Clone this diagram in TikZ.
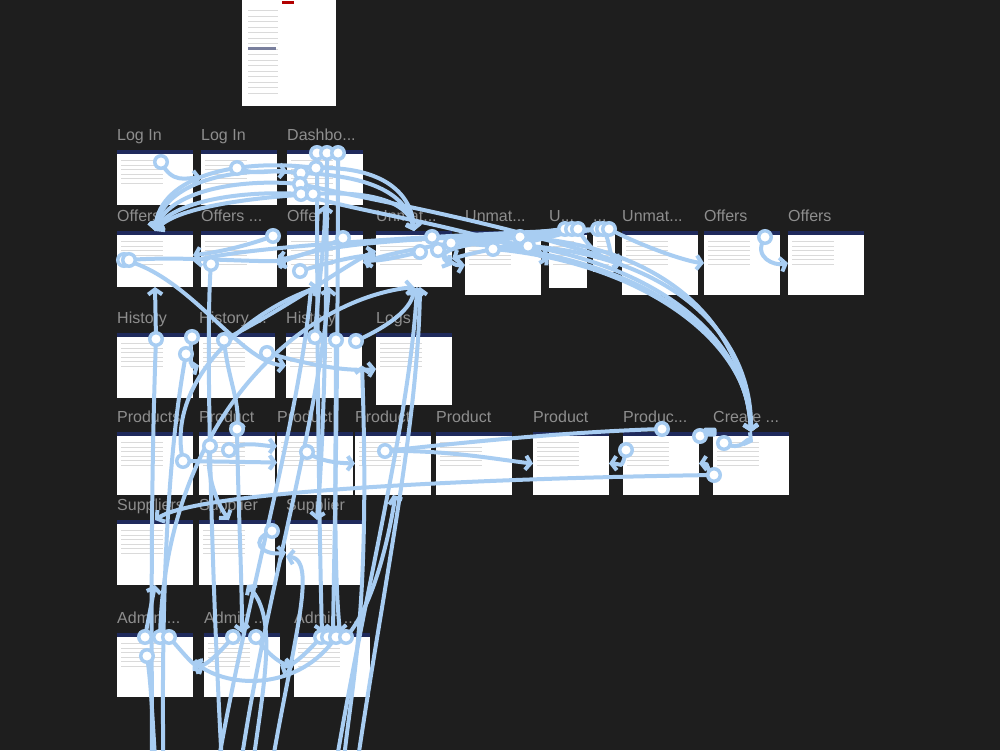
\documentclass[tikz,border=0pt]{standalone}
\usepackage{fontspec}
\setmainfont{Liberation Sans}
\usetikzlibrary{arrows.meta,calc}
\definecolor{bg}{HTML}{1E1E1E}
\definecolor{lnk}{HTML}{A8CDF2}
\definecolor{navy}{HTML}{1F2A5C}
\definecolor{lblc}{HTML}{8E8E8E}
\definecolor{mock}{HTML}{DADADA}
\tikzset{
 frmbox/.style={fill=white, draw=none, inner sep=0pt, outer sep=0pt, anchor=north west},
 lab/.style={text=lblc, font=\fontsize{16}{18}\selectfont, anchor=base west, inner sep=0pt},
 conn/.style={draw=lnk, line width=4pt, line cap=round, -{Straight Barb[length=5pt,width=14pt]}},
 link/.style={draw=lnk, line width=4pt, line cap=round},
 hot/.style={circle, draw=lnk, fill=white, line width=3.5pt, minimum size=12.5pt, inner sep=0pt},
 mockline/.style={draw=mock, line width=0.6pt},
}
\newcommand\mkframe[6]{%
 \node[frmbox, minimum width=#4pt, minimum height=#5pt] (#1) at (#2,#3) {};
 \fill[navy] (#1.north west) rectangle ([yshift=-3.5pt]#1.north east);
 \foreach \k in {1,...,6} \draw[mockline] ([xshift=4pt,yshift={-6pt-\k*4.5pt}]#1.north west) -- ++({0.55*#4},0);
 \node[lab] (#1l) at ([yshift=10pt]#1.north west) {#6};}
\begin{document}
\begin{tikzpicture}[x=1pt,y=-1pt]
\fill[bg] (0,0) rectangle (1000,750);
\clip (0,0) rectangle (1000,750);
% top frame
\node[frmbox, minimum width=94pt, minimum height=111pt] (topf) at (242,-5) {};
\foreach \k in {1,...,16} \draw[mockline] ([xshift=6pt,yshift={-10pt-\k*5.5pt}]topf.north west) -- ++(30,0);
\fill[red!70!black] ([xshift=40pt,yshift=-9pt]topf.north west) rectangle ++(12,-3);
\fill[navy!60] ([xshift=6pt,yshift=-55pt]topf.north west) rectangle ++(28,-3);
% frames
\mkframe{li1}{117}{150}{76}{55}{Log In}
\mkframe{li2}{201}{150}{76}{55}{Log In}
\mkframe{dash}{287}{150}{76}{55}{Dashbo...}
\mkframe{of1}{117}{231}{76}{56}{Offers}
\mkframe{of2}{201}{231}{76}{56}{Offers ...}
\mkframe{of3}{287}{231}{76}{56}{Offers}
\mkframe{un1}{376}{231}{76}{56}{Unmat...}
\mkframe{un2}{465}{231}{76}{64}{Unmat...}
\mkframe{un3}{549}{231}{38}{57}{U...}
\mkframe{un4}{593}{231}{22}{41}{...}
\mkframe{un5}{622}{231}{76}{64}{Unmat...}
\mkframe{of4}{704}{231}{76}{64}{Offers}
\mkframe{of5}{788}{231}{76}{64}{Offers}
\mkframe{hi1}{117}{333}{76}{65}{History}
\mkframe{hi2}{199}{333}{76}{65}{History ...}
\mkframe{hi3}{286}{333}{76}{65}{History}
\mkframe{logs}{376}{333}{76}{72}{Logs}
\mkframe{pr1}{117}{432}{76}{63}{Products}
\mkframe{pr2}{199}{432}{76}{63}{Product}
\mkframe{pr3}{277}{432}{76}{63}{Product}
\mkframe{pr4}{355}{432}{76}{63}{Product}
\mkframe{pr5}{436}{432}{76}{63}{Product}
\mkframe{pr6}{533}{432}{76}{63}{Product}
\mkframe{pr7}{623}{432}{76}{63}{Produc...}
\mkframe{cr}{713}{432}{76}{63}{Create ...}
\mkframe{su1}{117}{520}{76}{65}{Suppliers}
\mkframe{su2}{199}{520}{76}{65}{Supplier}
\mkframe{su3}{286}{520}{76}{65}{Supplier}
\mkframe{ad1}{117}{633}{76}{64}{Admin ...}
\mkframe{ad2}{204}{633}{76}{64}{Admin ...}
\mkframe{ad3}{294}{633}{76}{64}{Admin ...}
% hotspot positions
\coordinate (h1) at (161,162); \coordinate (h2) at (237,168);
\coordinate (d1) at (317,153); \coordinate (d2) at (327,153); \coordinate (d3) at (338,153);
\coordinate (d4) at (301,173); \coordinate (d5) at (316,168); \coordinate (d6) at (300,184);
\coordinate (d7) at (301,194); \coordinate (d8) at (313,194);
\coordinate (o1) at (124,260); \coordinate (o1b) at (129,260); \coordinate (o2) at (211,264);
\coordinate (o3) at (273,236); \coordinate (o4) at (300,271); \coordinate (o5) at (343,238);
\coordinate (u1) at (432,237); \coordinate (u2) at (451,243); \coordinate (u3) at (420,252);
\coordinate (u4) at (438,250); \coordinate (u5) at (493,249); \coordinate (u6) at (520,237);
\coordinate (u7) at (528,246); \coordinate (u8) at (565,229); \coordinate (u9) at (572,229);
\coordinate (u10) at (578,229); \coordinate (u11) at (598,229); \coordinate (u12) at (603,229);
\coordinate (u13) at (609,229); \coordinate (o6) at (765,237);
\coordinate (y1) at (156,339); \coordinate (y2) at (192,337); \coordinate (y3) at (186,354);
\coordinate (y4) at (224,340); \coordinate (y5) at (267,353); \coordinate (y6) at (315,337);
\coordinate (y7) at (336,340); \coordinate (y8) at (356,341);
\coordinate (p1) at (183,461); \coordinate (p2) at (237,429); \coordinate (p3) at (210,446);
\coordinate (p4) at (229,450); \coordinate (p5) at (307,452); \coordinate (p6) at (385,451);
\coordinate (p7) at (662,429); \coordinate (p8) at (700,436); \coordinate (p9) at (626,450);
\coordinate (p10) at (724,443); \coordinate (p11) at (714,475);
\coordinate (s1) at (272,531);
\coordinate (a1) at (145,637); \coordinate (a2) at (160,637); \coordinate (a3) at (169,637);
\coordinate (a4) at (147,656); \coordinate (a5) at (233,637); \coordinate (a6) at (256,637);
\coordinate (a7) at (321,637); \coordinate (a8) at (328,637); \coordinate (a9) at (336,637);
\coordinate (a10) at (346,637);
% frames below the visible area
\coordinate (e1) at (152,800); \coordinate (e2) at (158,800); \coordinate (e3) at (164,800);
\coordinate (e4) at (212,800); \coordinate (e5) at (224,800); \coordinate (e6) at (236,800);
\coordinate (e7) at (248,800); \coordinate (e8) at (266,800); \coordinate (e10) at (330,800);
\coordinate (e11) at (341,800); \coordinate (e12) at (352,800);
% ---- connectors ----
\draw[conn] (h1) .. controls (172,184) and (186,178) .. (li2.west);
\draw[conn] (h2) .. controls (256,176) and (270,170) .. ([yshift=6pt]dash.west);
\draw[conn] (d5) .. controls (240,158) and (160,175) .. (of1.north);
\draw[conn] (d4) .. controls (232,166) and (164,182) .. (of1.north);
\draw[conn] (d6) .. controls (236,178) and (168,192) .. (of1.north);
\draw[conn] (d7) .. controls (240,190) and (172,202) .. (of1.north);
\draw[conn] (d8) .. controls (245,198) and (176,208) .. (of1.north);
\draw[conn] (d5) .. controls (385,166) and (412,195) .. (un1.north);
\draw[conn] (d4) .. controls (382,176) and (408,200) .. (un1.north);
\draw[conn] (d8) .. controls (380,190) and (410,206) .. (un1.north);
\draw[conn] (d7) .. controls (365,214) and (470,226) .. (un3.west);
\draw[conn] (d6) .. controls (372,200) and (500,222) .. (un5.west);
\draw[conn] (d1) .. controls (317,400) and (320,560) .. ([xshift=-10pt]ad3.north);
\draw[conn] (d3) .. controls (338,400) and (334,560) .. ([xshift=1pt]ad3.north);
\draw[conn] (d2) .. controls (327,330) and (323,450) .. ([xshift=-7pt]su3.north);
% offers row
\draw[conn] (o1) .. controls (190,276) and (240,362) .. (hi3.west);
\draw[conn] (o1b) .. controls (175,256) and (245,262) .. ([yshift=-2pt]of3.west);
\draw[conn] (o3) .. controls (252,244) and (222,252) .. ([yshift=4pt]of1.east);
\draw[conn] (o2) .. controls (205,330) and (212,600) .. (e5);
\draw[conn] (o4) .. controls (330,262) and (355,256) .. ([yshift=4pt]un1.west);
\draw[conn] (o5) .. controls (320,250) and (295,258) .. (of2.east);
% unmatched band
\draw[conn] (u1) .. controls (620,240) and (745,318) .. (cr.north);
\draw[conn] (u2) .. controls (630,250) and (748,330) .. (cr.north);
\draw[conn] (u5) .. controls (640,262) and (750,340) .. (cr.north);
\draw[conn] (u6) .. controls (650,245) and (742,310) .. (cr.north);
\draw[conn] (u7) .. controls (660,255) and (752,326) .. (cr.north);
\draw[conn] (u3) .. controls (395,258) and (375,262) .. (of3.east);
\draw[conn] (u4) .. controls (450,262) and (455,266) .. ([yshift=-2pt]un2.west);
\draw[conn] (u7) .. controls (540,250) and (545,258) .. ([yshift=4pt]un3.west);
\draw[conn] (u8) .. controls (500,236) and (400,248) .. ([yshift=-4pt]of3.east);
\draw[conn] (u9) .. controls (480,240) and (330,236) .. ([yshift=-6pt]of2.east);
\draw[conn] (u10) .. controls (540,242) and (480,250) .. (un1.east);
\draw[conn] (u11) .. controls (480,234) and (260,244) .. ([yshift=-2pt]of1.east);
\draw[conn] (u12) .. controls (520,238) and (420,244) .. ([yshift=-6pt]un1.east);
\draw[conn] (u12) .. controls (612,244) and (608,260) .. (un5.west);
\draw[conn] (u13) .. controls (650,250) and (690,262) .. (of4.west);
\draw[conn] (u10) .. controls (590,250) and (605,262) .. ([yshift=2pt]un5.west);
\draw[conn] (o6) .. controls (752,258) and (775,266) .. (of5.west);
% history row
\draw[conn] (y1) -- (of1.south);
\draw[conn] (y1) .. controls (150,500) and (152,650) .. (e1);
\draw[conn] (y2) .. controls (188,362) and (192,368) .. (hi2.west);
\draw[conn] (y3) .. controls (168,450) and (160,600) .. (e3);
\draw[conn] (y4) .. controls (228,380) and (240,400) .. (pr2.north);
\draw[conn] (y4) .. controls (300,300) and (350,262) .. ([yshift=8pt]un1.west);
\draw[conn] (y5) .. controls (300,362) and (340,372) .. (logs.west);
\draw[conn] (y6) .. controls (318,290) and (325,240) .. (dash.south);
\draw[conn] (y7) .. controls (336,450) and (333,560) .. ([xshift=8pt]ad3.north);
\draw[conn] (y8) .. controls (380,330) and (412,312) .. (un1.south);
% long lines from the lower left and bottom
\draw[conn] (a2) .. controls (165,420) and (300,300) .. (un1.south);
\draw[conn] (p1) .. controls (165,380) and (250,310) .. ([xshift=-6pt]of3.south);
\draw[conn] (e10) .. controls (362,600) and (410,420) .. ([xshift=3pt]un1.south);
\draw[conn] (e12) .. controls (380,600) and (418,430) .. ([xshift=6pt]un1.south);
\draw[conn] (e4) .. controls (240,620) and (300,420) .. ([xshift=-14pt]of3.south);
\draw[conn] (e6) .. controls (258,620) and (318,430) .. ([xshift=4pt]of3.south);
\draw[conn] (e8) .. controls (290,650) and (320,560) .. ([yshift=-4pt]su3.west);
\draw[conn] (e11) .. controls (345,700) and (372,650) .. (hi3.east);
\draw[conn] (e7) .. controls (262,690) and (280,620) .. ([xshift=10pt]su2.south);
% products row
\draw[conn] (p1) -- ([yshift=1pt]pr3.west);
\draw[conn] (p5) .. controls (320,462) and (340,463) .. (pr4.west);
\draw[conn] (p6) .. controls (450,450) and (500,460) .. (pr6.west);
\draw[link] (p7) .. controls (560,432) and (450,444) .. (p6);
\draw[conn] (p9) .. controls (622,472) and (620,463) .. (pr6.east);
\draw[conn] (p11) .. controls (705,470) and (710,463) .. (pr7.east);
\draw[conn] (p11) .. controls (500,478) and (200,490) .. (su1.north);
\draw[conn] (p10) .. controls (742,452) and (746,438) .. ([xshift=2pt,yshift=-10pt]cr.north);
\draw[link] (p8) -- (706,432);
\draw[conn] (p2) .. controls (238,500) and (242,580) .. (ad2.north);
\draw[conn] (p4) .. controls (245,440) and (260,446) .. ([yshift=-14pt]pr3.north west);
\draw[conn] (p3) .. controls (205,470) and (215,500) .. ([xshift=-8pt]su2.north);
% suppliers and admin
\draw[conn] (s1) .. controls (248,540) and (262,556) .. (su3.west);
\draw[conn] (a1) -- (su1.south);
\draw[conn] (a4) .. controls (152,690) and (152,720) .. (e2);
\draw[conn] (a3) .. controls (185,655) and (195,668) .. (ad2.west);
\draw[conn] (a5) .. controls (220,652) and (205,668) .. (ad1.east);
\draw[conn] (a6) .. controls (268,656) and (285,666) .. (ad3.west);
\draw[conn] (a7) .. controls (305,655) and (290,668) .. (ad2.east);
\draw[conn] (a9) .. controls (300,690) and (230,690) .. ([yshift=4pt]ad1.east);
\draw[conn] (a10) .. controls (380,600) and (395,500) .. (pr4.south);
% hotspot circles
\foreach \h in {h1,h2,d1,d2,d3,d4,d5,d6,d7,d8,o1,o1b,o2,o3,o4,o5,u1,u2,u3,u4,u5,u6,u7,u8,u9,u10,u11,u12,u13,o6,y1,y2,y3,y4,y5,y6,y7,y8,p1,p2,p3,p4,p5,p6,p7,p8,p9,p10,p11,s1,a1,a2,a3,a4,a5,a6,a7,a8,a9,a10}
  \node[hot] (\h c) at (\h) {};
\node[fill=lnk, rounded corners=2pt, minimum width=13pt, minimum height=9pt, inner sep=0pt] (start) at (710,432) {};
\end{tikzpicture}
\end{document}
